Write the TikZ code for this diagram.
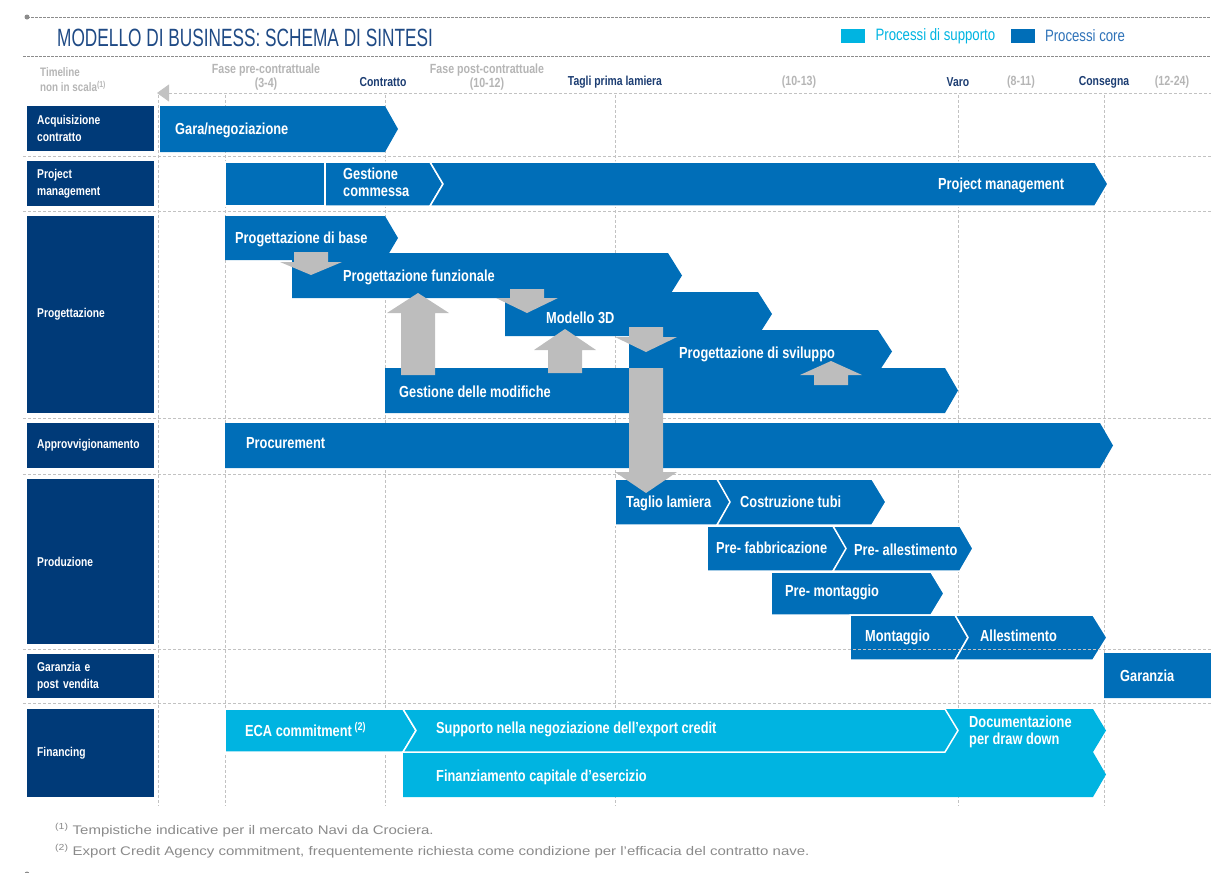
\documentclass[tikz,border=0pt]{standalone}
\usepackage{fontspec}
\setmainfont{Liberation Sans}
\newfontfamily\narrowfont[FakeStretch=0.8]{Liberation Sans}
\newfontfamily\thinfont[FakeStretch=0.69]{Liberation Sans}
\newfontfamily\widefont[FakeStretch=1.2]{Liberation Sans}
\usetikzlibrary{positioning,arrows.meta}
\definecolor{navybox}{HTML}{003A78}
\definecolor{coreblue}{HTML}{006EB8}
\definecolor{suppblue}{HTML}{00B4E1}
\definecolor{flowgray}{HTML}{BDBDBD}
\definecolor{gridgray}{HTML}{C2C2C2}
\definecolor{hdrnavy}{HTML}{1C3D72}
\definecolor{hdrgrey}{HTML}{B5B5B5}
\definecolor{titleblue}{HTML}{1F4A85}
\definecolor{notegray}{HTML}{8A8A8A}
\definecolor{rulegray}{HTML}{8C8C8C}
\definecolor{legcore}{HTML}{2E72B8}
\begin{document}
\begin{tikzpicture}[x=1pt,y=-1pt,
    gridline/.style={gridgray, dash pattern=on 3pt off 2pt, line width=0.9pt},
    rule/.style={rulegray, dash pattern=on 2.5pt off 1.5pt, line width=0.7pt},
    core/.style={fill=coreblue},
    supp/.style={fill=suppblue},
    edge/.style={draw=white, line width=1.5pt},
    flat/.style={},
    flow/.style={fill=flowgray},
    lblbox/.style={fill=navybox, text=white, anchor=north west, minimum width=127pt, text width=107pt, inner xsep=10pt, inner ysep=0pt, align=left, font=\narrowfont\bfseries\fontsize{12.8}{17}\selectfont},
    bartext/.style={text=white, anchor=west, inner sep=0pt, text height=11.5pt, text depth=0pt, font=\narrowfont\bfseries\fontsize{16}{17}\selectfont},
    bartwo/.style={text=white, anchor=west, inner sep=0pt, align=left, font=\narrowfont\bfseries\fontsize{16}{17}\selectfont},
    hdrmark/.style={text=hdrnavy, inner sep=0pt, font=\narrowfont\bfseries\fontsize{13}{14}\selectfont},
    hdrnote/.style={text=hdrgrey, inner sep=0pt, font=\narrowfont\bfseries\fontsize{13.3}{14}\selectfont},
    legbox/.style={minimum width=24pt, minimum height=14pt, inner sep=0pt},
    legtext/.style={inner sep=0pt, font=\narrowfont\fontsize{16.5}{17}\selectfont},
    notetext/.style={text=notegray, anchor=west, inner sep=0pt, font=\widefont\fontsize{12.5}{13}\selectfont}]
  \useasboundingbox (0,0) rectangle (1211,873);

  % title and legend
  \fill[rulegray] (27,17) circle (2.5pt);
  \fill[rulegray] (27,874) circle (2.5pt);
  \draw[rule] (27,17) -- (1211,17);
  \draw[rule] (23,56) -- (1211,56);
  \node[anchor=west, inner sep=0pt, text=titleblue, text height=18pt, text depth=0pt, font=\thinfont\fontsize{25}{25}\selectfont] (title) at (57,37) {MODELLO DI BUSINESS: SCHEMA DI SINTESI};
  \node[legbox, fill=suppblue, anchor=west] (lsupp) at (841,36) {};
  \node[legtext, text=suppblue, right=10pt of lsupp] (lsupptxt) {Processi di supporto};
  \node[legbox, fill=coreblue, right=15pt of lsupptxt] (lcore) {};
  \node[legtext, text=legcore, right=10pt of lcore] (lcoretxt) {Processi core};

  % timeline
  \node[hdrnote, anchor=west, align=left, font=\narrowfont\bfseries\fontsize{12.3}{15}\selectfont] (tline) at (40,80) {Timeline\\non in scala\textsuperscript{(1)}};
  \foreach \n/\x/\t in {fpre/266/{Fase pre-contrattuale\\(3-4)}, fpost/487/{Fase post-contrattuale\\(10-12)}}{
    \node[hdrnote, align=center] (\n) at (\x,77) {\t};
  }
  \foreach \n/\x/\t in {contratto/383/Contratto, taglio/615/Tagli prima lamiera, varo/958/Varo, consegna/1104/Consegna}{
    \node[hdrmark] (\n) at (\x,82) {\t};
  }
  \foreach \n/\x/\t in {d1/799/(10-13), d2/1021/(8-11), d3/1172/(12-24)}{
    \node[hdrnote] (\n) at (\x,82) {\t};
  }
  \coordinate (tlstart) at (157,93);
  \coordinate (tlend) at (1211,93);
  \draw[gridline, {Triangle[length=12pt,width=17pt,fill=gridgray]}-] (tlstart) -- (tlend);

  % grid
  \foreach \x in {158,225,385,615,958,1104}{
    \draw[gridline] (\x,95) -- (\x,806);
  }
  \foreach \y in {156,211,418,474,703}{
    \draw[gridline] (23,\y) -- (1211,\y);
  }

  % row labels
  \foreach \n/\ya/\yb/\t in {acq/106/151/{Acquisizione\\contratto}, pm/161/206/{Project\\management}, prog/216/413/Progettazione, appr/423/468/Approvvigionamento, prod/479/644/Produzione, gar/654/698/{Garanzia e\\post vendita}, fin/709/797/Financing}{
    \node[lblbox, minimum height={\yb-\ya}] (\n) at (27,\ya) {\t};
  }

  % bars
  \foreach \xa/\xb/\ya/\yb/\k/\tp/\c/\s in {160/385/106/152/0/13/core/flat,
      225/325/162/206/0/0/core/edge, 325/430/162/206/0/13/core/edge, 430/1095/162/206/1/13/core/edge,
      225/385/216/260/0/13/core/flat, 292/668/253/298/0/14/core/flat, 505/758/292/336/0/14/core/flat,
      629/878/330/373/0/14/core/flat, 385/945/368/413/0/13/core/flat,
      225/1100/423/468/0/13/core/flat,
      615/717/479/525/0/14/core/edge, 717/872/479/525/1/14/core/edge,
      707/833/526/571/0/14/core/edge, 833/960/526/571/1/13/core/edge,
      771/931/572/615/0/13/core/edge,
      850/955/615/660/0/13/core/edge, 955/1093/615/660/1/14/core/edge,
      1104/1215/653/698/0/0/core/flat,
      403/1093/752/797/0/13/supp/flat, 945/1093/709/752/1/13/supp/flat,
      225/403/709/752/0/13/supp/edge, 403/945/709/752/1/13/supp/edge}{
    \fill[\c,\s] (\xa,\ya) -- (\xb,\ya) -- ({\xb+\tp},{(\ya+\yb)/2}) -- (\xb,\yb) -- (\xa,\yb) -- ({\xa+\k*13},{(\ya+\yb)/2}) -- cycle;
  }
  \draw[gridline] (23,649) -- (1211,649);

  % links between steps
  \foreach \xc/\ys/\yh/\yt in {311/252/262/275, 527/289/298/313, 646/327/337/352, 646/368/472/493,
      418/375/313/293, 565/373/350/329, 831/385/375/361}{
    \fill[flow] ({\xc-17},\ys) -- ({\xc+17},\ys) -- ({\xc+17},\yh) -- ({\xc+31},\yh) -- (\xc,\yt) -- ({\xc-31},\yh) -- ({\xc-17},\yh) -- cycle;
  }

  % bar texts
  \foreach \n/\x/\y/\t in {tgara/175/129/{Gara/negoziazione}, tpm/938/184/Project management,
      tpdb/235/238/Progettazione di base, tpf/343/276/Progettazione funzionale, tm3d/546/318/Modello 3D,
      tpds/679/353/Progettazione di sviluppo, tgdm/399/392/Gestione delle modifiche, tproc/246/443/Procurement,
      ttag/626/502/Taglio lamiera, ttub/740/502/Costruzione tubi, tpfab/716/548/Pre- fabbricazione,
      tpall/854/550/Pre- allestimento, tpmon/785/591/Pre- montaggio, tmon/865/636/Montaggio,
      tall/980/636/Allestimento, tgar/1120/676/Garanzia, teca/245/731/{ECA commitment\,\textsuperscript{(2)}},
      tsup/436/728/Supporto nella negoziazione dell’export credit, tfin/436/776/Finanziamento capitale d’esercizio}{
    \node[bartext] (\n) at (\x,\y) {\t};
  }
  \node[bartwo] (tgest) at (343,182) {Gestione\\commessa};
  \node[bartwo] (tdoc) at (969,732) {Documentazione\\per draw down};

  % notes
  \node[notetext] (note1) at (55,830) {\textsuperscript{(1)} Tempistiche indicative per il mercato Navi da Crociera.};
  \node[notetext] (note2) at (55,851) {\textsuperscript{(2)} Export Credit Agency commitment, frequentemente richiesta come condizione per l’efficacia del contratto nave.};
\end{tikzpicture}
\end{document}
